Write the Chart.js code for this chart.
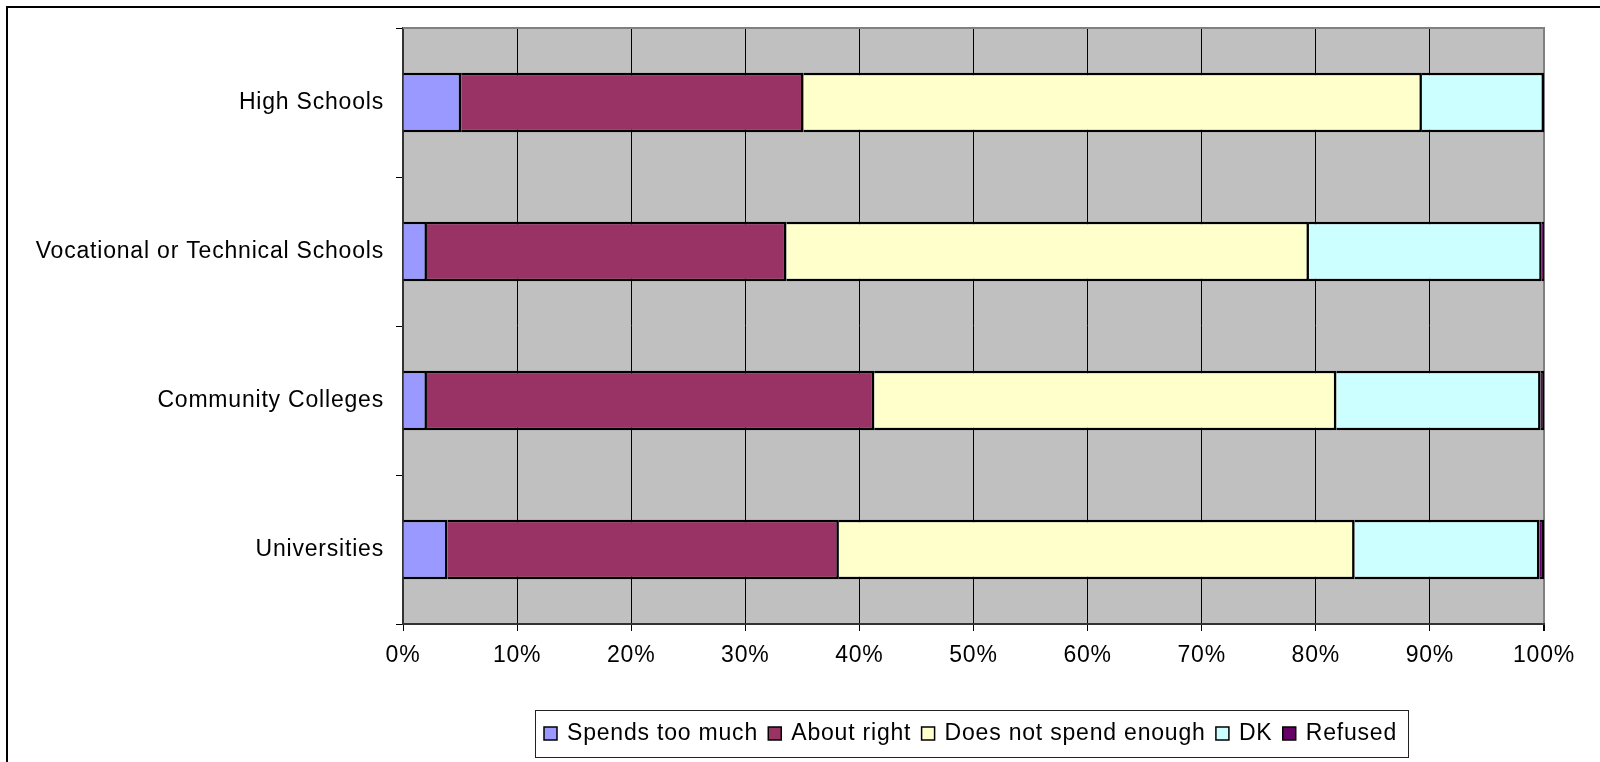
<!DOCTYPE html>
<html>
<head>
<meta charset="utf-8">
<script src="https://cdn.jsdelivr.net/npm/chart.js@4/dist/chart.umd.min.js"></script>
<style>
  html, body { margin: 0; padding: 0; background: #fff; }
  #wrap { position: relative; width: 1600px; height: 762px; }
</style>
</head>
<body>
<div id="wrap"><canvas id="chart" width="1600" height="762"></canvas></div>
<script>
// Survey: opinion on public spending, by type of institution (percent of respondents)
const categories = ['High Schools', 'Vocational or Technical Schools', 'Community Colleges', 'Universities'];
const seriesNames = ['Spends too much', 'About right', 'Does not spend enough', 'DK', 'Refused'];
const spendsTooMuch = [5.1, 2.1, 2.1, 3.9];
const aboutRight    = [30.0, 31.5, 39.2, 34.3];
const notEnough     = [54.2, 45.8, 40.5, 45.2];
const dontKnow      = [10.7, 20.4, 17.9, 16.2];
const refused       = [0, 0.2, 0.3, 0.4];
const xTickValues   = [0, 10, 20, 30, 40, 50, 60, 70, 80, 90, 100];

const seriesValues = [spendsTooMuch, aboutRight, notEnough, dontKnow, refused];
const seriesColors = ['#9999FF', '#993366', '#FFFFCC', '#CCFFFF', '#660066'];

const FONT = { family: '"Liberation Sans", Arial, sans-serif', size: 23 };
const SPACING = '0.8px';

const datasets = seriesNames.map((name, i) => ({
  label: name,
  data: seriesValues[i],
  backgroundColor: seriesColors[i],
  borderColor: '#000000',
  borderWidth: 2.5,
  borderSkipped: 'start',
  barPercentage: 0.4,
  categoryPercentage: 1.0
}));

// text spacing for all canvas text
const spacingPlugin = {
  id: 'spacing',
  beforeUpdate(chart) { chart.ctx.letterSpacing = SPACING; },
  beforeDraw(chart) { chart.ctx.letterSpacing = SPACING; }
};

// grey plot background, outer frame, plot top edge and legend box
const decorPlugin = {
  id: 'decor',
  beforeDraw(chart) {
    const { ctx, chartArea: a } = chart;
    ctx.save();
    ctx.fillStyle = '#ffffff';
    ctx.fillRect(0, 0, chart.width, chart.height);
    ctx.fillStyle = '#C0C0C0';
    ctx.fillRect(a.left, a.top, a.right - a.left, a.bottom - a.top);
    ctx.restore();
  },
  afterDraw(chart) {
    const { ctx, chartArea: a } = chart;
    ctx.save();
    // plot area top edge
    ctx.strokeStyle = '#808080';
    ctx.lineWidth = 2;
    ctx.beginPath();
    ctx.moveTo(a.left, a.top);
    ctx.lineTo(a.right + 1, a.top);
    ctx.stroke();

    // outer chart frame
    ctx.fillStyle = '#000000';
    ctx.fillRect(6, 6, 2, chart.height - 6);
    ctx.fillRect(6, 6, chart.width - 6, 2);

    // legend
    const box = { left: 535.5, top: 710.5, right: 1408.5, bottom: 757.5 };
    ctx.fillStyle = '#ffffff';
    ctx.fillRect(box.left, box.top, box.right - box.left, box.bottom - box.top);
    ctx.strokeStyle = '#222222';
    ctx.lineWidth = 1;
    ctx.strokeRect(box.left, box.top, box.right - box.left, box.bottom - box.top);

    ctx.font = `${FONT.size}px ${FONT.family}`;
    ctx.letterSpacing = SPACING;
    ctx.textBaseline = 'alphabetic';
    ctx.textAlign = 'left';
    const sw = 13, swGap = 10;
    const items = chart.data.datasets.map(d => ({ label: d.label, color: d.backgroundColor, w: ctx.measureText(d.label).width }));
    const textTotal = items.reduce((s, it) => s + it.w, 0);
    const startX = 544, endX = 1397;
    const gap = (endX - startX - textTotal - items.length * (sw + swGap)) / (items.length - 1);
    let x = startX;
    const baseY = 740;
    items.forEach(it => {
      ctx.fillStyle = it.color;
      ctx.fillRect(x, baseY - sw, sw, sw);
      ctx.strokeStyle = '#000000';
      ctx.lineWidth = 1.5;
      ctx.strokeRect(x, baseY - sw, sw, sw);
      ctx.fillStyle = '#000000';
      ctx.fillText(it.label, x + sw + swGap, baseY);
      x += sw + swGap + it.w + gap;
    });
    ctx.restore();
  }
};

new Chart(document.getElementById('chart'), {
  type: 'bar',
  data: { labels: categories, datasets },
  options: {
    indexAxis: 'y',
    responsive: false,
    animation: false,
    maintainAspectRatio: false,
    layout: { padding: { top: 28, right: 56, left: 0, bottom: 0 } },
    plugins: {
      legend: { display: false },
      tooltip: { enabled: false },
      title: { display: false }
    },
    scales: {
      x: {
        stacked: true,
        min: 0,
        max: 100,
        afterBuildTicks(scale) { scale.ticks = xTickValues.map(v => ({ value: v })); },
        ticks: {
          color: '#000000',
          font: FONT,
          padding: 11,
          maxRotation: 0,
          callback: v => v + '%'
        },
        grid: {
          color: ctx => (ctx.index === xTickValues.length - 1 ? '#808080' : '#000000'),
          lineWidth: ctx => (ctx.index === xTickValues.length - 1 ? 2 : 1),
          tickLength: 7,
          tickColor: '#000000',
          drawOnChartArea: true
        },
        border: { display: true, color: '#333333', width: 2 },
        afterFit(scale) { scale.height = 138; }
      },
      y: {
        stacked: true,
        ticks: {
          color: '#000000',
          font: FONT,
          padding: 12
        },
        grid: {
          offset: true,
          drawOnChartArea: false,
          tickLength: 7,
          color: '#000000'
        },
        border: { display: true, color: '#333333', width: 2 },
        afterFit(scale) { scale.width = 403; }
      }
    }
  },
  plugins: [spacingPlugin, decorPlugin]
});
</script>
</body>
</html>
